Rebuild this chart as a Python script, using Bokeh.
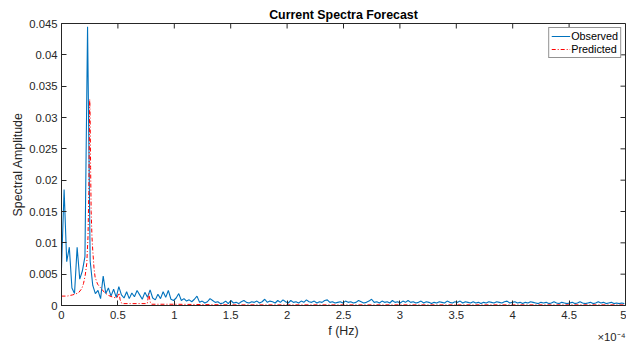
import numpy as np
from bokeh.plotting import figure
from bokeh.models import FixedTicker, Range1d, Legend, LegendItem, Title
from bokeh.embed import file_html
from bokeh.resources import INLINE

# frequency step of the observed spectrum, in units of 1e-4 Hz
freq_step = 0.0231

observed = [
    0.0060, 0.0185, 0.0070, 0.0093, 0.0028, 0.0019, 0.0093, 0.0042, 0.0055, 0.0078,
    0.0445, 0.0071, 0.0032, 0.0019, 0.0024, 0.0011, 0.0047, 0.0019, 0.0028, 0.0015,
    0.0026, 0.0013, 0.0030, 0.0017, 0.0012, 0.0022, 0.0011, 0.0020, 0.0014, 0.0024,
    0.0017, 0.0010, 0.0021, 0.0013, 0.0025, 0.0012, 0.0009, 0.0018, 0.0011, 0.0022,
    0.0013, 0.0024, 0.0010, 0.0008, 0.0012, 0.0019, 0.0008, 0.0011, 0.0007, 0.0009,
    0.0006, 0.0010, 0.0015, 0.0005, 0.0007, 0.0004, 0.0006, 0.0011, 0.0008, 0.0005,
    0.0006, 0.0003, 0.0004, 0.0007, 0.0003, 0.0008, 0.0004, 0.0005, 0.0003, 0.0006,
    0.0008, 0.0005, 0.0004, 0.0006, 0.0005, 0.0007, 0.0004, 0.0006, 0.0010, 0.0005,
    0.0007, 0.0006, 0.0004, 0.0008, 0.0005, 0.0009, 0.0006, 0.0004, 0.0008, 0.0005,
    0.0006, 0.0004, 0.0007, 0.0005, 0.0009, 0.0006, 0.0005, 0.0007, 0.0004, 0.0006,
    0.0005, 0.0008, 0.0009, 0.0005, 0.0006, 0.0004, 0.0005, 0.0006, 0.0004, 0.0007,
    0.0005, 0.0006, 0.0004, 0.0005, 0.0008, 0.0006, 0.0004, 0.0005, 0.0007, 0.0010,
    0.0005, 0.0006, 0.0004, 0.0007, 0.0005, 0.0006, 0.0004, 0.0008, 0.0005, 0.0006,
    0.0004, 0.0007, 0.0005, 0.0008, 0.0005, 0.0006, 0.0004, 0.0005, 0.0007, 0.0004,
    0.0006, 0.0005, 0.0003, 0.0005, 0.0004, 0.0006, 0.0005, 0.0004, 0.0007, 0.0005,
    0.0004, 0.0006, 0.0005, 0.0007, 0.0004, 0.0006, 0.0005, 0.0004, 0.0006, 0.0004,
    0.0005, 0.0003, 0.0005, 0.0004, 0.0006, 0.0005, 0.0004, 0.0006, 0.0005, 0.0004,
    0.0006, 0.0007, 0.0004, 0.0005, 0.0006, 0.0004, 0.0005, 0.0003, 0.0005, 0.0004,
    0.0006, 0.0005, 0.0004, 0.0003, 0.0005, 0.0004, 0.0005, 0.0003, 0.0004, 0.0006,
    0.0004, 0.0003, 0.0005, 0.0004, 0.0003, 0.0004, 0.0005, 0.0003, 0.0004, 0.0006,
    0.0004, 0.0003, 0.0004, 0.0005, 0.0003, 0.0004, 0.0006, 0.0004, 0.0005, 0.0003,
    0.0004, 0.0005, 0.0003, 0.0004, 0.0003, 0.0004, 0.0003,
]

pred_freq = [
    0.000, 0.050, 0.100, 0.150, 0.180, 0.195, 0.210, 0.224, 0.235, 0.242,
    0.247, 0.250, 0.254, 0.258, 0.263, 0.270, 0.277, 0.288, 0.298, 0.320,
    0.343, 0.380, 0.417, 0.460, 0.490, 0.500, 0.510, 0.520, 0.535, 0.600,
    0.700, 0.760, 0.768, 0.775, 0.782, 0.790, 0.800, 1.000, 1.500, 2.000,
    3.000, 4.000, 5.000,
]
pred_amp = [
    0.0015, 0.0015, 0.0017, 0.0020, 0.0027, 0.0035, 0.0048, 0.0067, 0.0110, 0.0180,
    0.0270, 0.0329, 0.0300, 0.0220, 0.0150, 0.0110, 0.0088, 0.0060, 0.0045, 0.0034,
    0.0029, 0.0021, 0.0016, 0.0013, 0.0012, 0.0016, 0.0020, 0.0009, 0.0003, 0.0003,
    0.0003, 0.0003, 0.0012, 0.0019, 0.0010, 0.0003, 0.0002, 0.0002, 0.0001, 0.0001,
    0.0001, 0.0001, 0.0001,
]

x_ticks = [0, 0.5, 1, 1.5, 2, 2.5, 3, 3.5, 4, 4.5, 5]
x_tick_labels = ["0", "0.5", "1", "1.5", "2", "2.5", "3", "3.5", "4", "4.5", "5"]
y_ticks = [0, 0.005, 0.01, 0.015, 0.02, 0.025, 0.03, 0.035, 0.04, 0.045]
y_tick_labels = ["0", "0.005", "0.01", "0.015", "0.02", "0.025", "0.03", "0.035", "0.04", "0.045"]
x_exponent = "×10⁻⁴"

obs_freq = np.arange(len(observed)) * freq_step

FONT = "Liberation Sans"
AX = "#262626"
X0, X1 = 0, 5
Y0, Y1 = 0, 0.045

p = figure(width=626, height=345, output_backend="svg", toolbar_location=None,
           x_range=Range1d(X0, X1), y_range=Range1d(Y0, Y1),
           min_border_left=61, min_border_right=1, min_border_top=23, min_border_bottom=40,
           title="Current Spectra Forecast")
p.background_fill_color = "white"
p.border_fill_color = "white"
p.outline_line_color = AX
p.outline_line_width = 1
p.xgrid.visible = False
p.ygrid.visible = False

p.title.align = "center"
p.title.text_font = FONT
p.title.text_font_size = "12.4px"
p.title.text_font_style = "bold"
p.title.text_color = "black"
p.title.standoff = 3

def style_axis(ax, ticks, labels):
    ax.ticker = FixedTicker(ticks=ticks)
    ax.major_label_overrides = {t: l for t, l in zip(ticks, labels)}
    ax.major_tick_in = 5
    ax.major_tick_out = 0
    ax.minor_tick_in = 0
    ax.minor_tick_out = 0
    ax.axis_line_color = AX
    ax.major_tick_line_color = AX
    ax.major_label_text_color = AX
    ax.major_label_text_font = FONT
    ax.major_label_text_font_size = "11.3px"
    ax.axis_label_text_font = FONT
    ax.axis_label_text_font_size = "12.4px"
    ax.axis_label_text_font_style = "normal"
    ax.axis_label_text_color = AX

xa = p.xaxis[0]
style_axis(xa, x_ticks, x_tick_labels)
xa.axis_label = "f (Hz)"
xa.major_label_standoff = 5
xa.axis_label_standoff = 2

ya = p.yaxis[0]
style_axis(ya, y_ticks, y_tick_labels)
ya.axis_label = "Spectral Amplitude"
ya.major_label_standoff = 4
ya.axis_label_standoff = 1

# inward tick marks on the top and right edges of the box (MATLAB "box on")
tick_len_y = (Y1 - Y0) * 5 / 282
tick_len_x = (X1 - X0) * 5 / 564
p.segment(x0=x_ticks, y0=[Y1] * len(x_ticks), x1=x_ticks, y1=[Y1 - tick_len_y] * len(x_ticks),
          line_color=AX, line_width=1)
p.segment(x0=[X1] * len(y_ticks), y0=y_ticks, x1=[X1 - tick_len_x] * len(y_ticks), y1=y_ticks,
          line_color=AX, line_width=1)

r_obs = p.line(obs_freq, observed, line_color="#0072BD", line_width=1.1)
r_pred = p.line(pred_freq, pred_amp, line_color="#FF0000", line_width=1.0, line_dash="4 2 1 2")

legend = Legend(items=[LegendItem(label="Observed", renderers=[r_obs]),
                       LegendItem(label="Predicted", renderers=[r_pred])],
                location="top_right")
legend.margin = 4
legend.padding = 2
legend.spacing = 1
legend.glyph_width = 19
legend.glyph_height = 12
legend.label_height = 12
legend.label_standoff = 1
legend.label_text_font = FONT
legend.label_text_font_size = "10.8px"
legend.label_text_color = "black"
legend.border_line_color = AX
legend.border_line_width = 0.6
legend.background_fill_color = "white"
legend.background_fill_alpha = 1.0
p.add_layout(legend)

# exponent of the x axis, below the right end of the axis
exp_title = Title(text=x_exponent, align="right", vertical_align="top",
                  text_font=FONT, text_font_size="11.3px", text_font_style="normal",
                  text_color=AX)
try:
    exp_title.standoff = -20
except Exception:
    exp_title.standoff = 0
p.add_layout(exp_title, "below")

open("out.html", "w").write(file_html(p, INLINE))
